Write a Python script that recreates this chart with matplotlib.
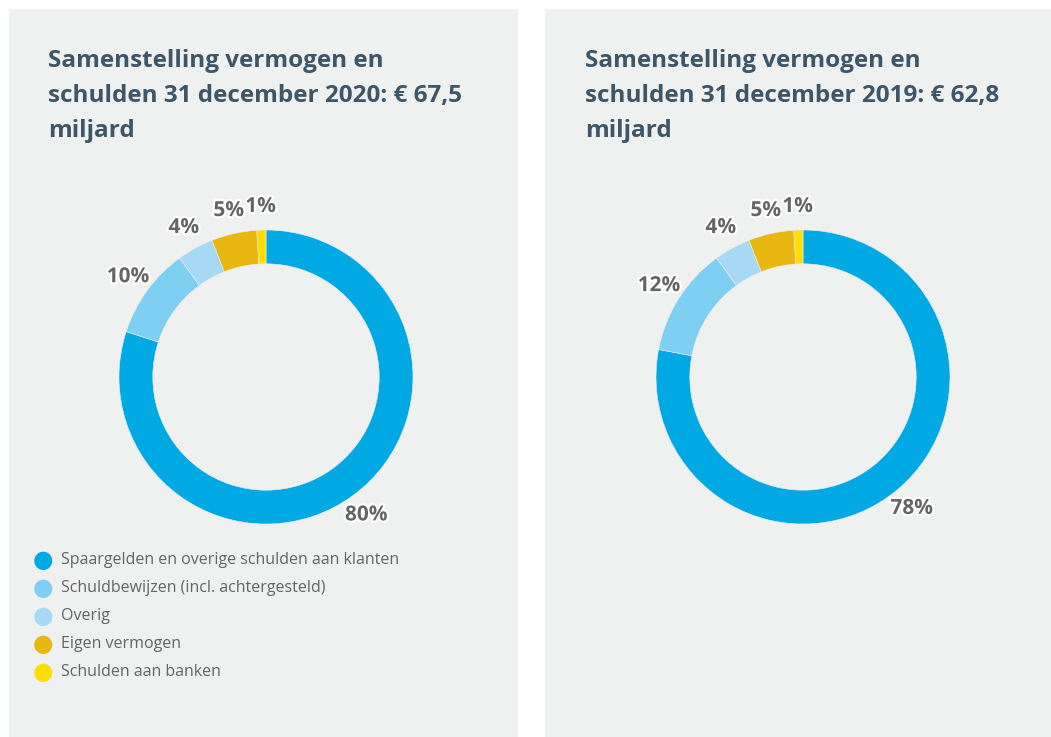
import matplotlib
matplotlib.use("Agg")
import matplotlib.pyplot as plt
from matplotlib.patches import Rectangle
import matplotlib.patheffects as pe

plt.rcParams['font.family'] = ['Open Sans', 'DejaVu Sans']

# data
categories = ['Spaargelden en overige schulden aan klanten',
              'Schuldbewijzen (incl. achtergesteld)',
              'Overig',
              'Eigen vermogen',
              'Schulden aan banken']
colors = ['#00a9e3', '#7fcff3', '#a8d9f4', '#e8b712', '#ffdd00']
values_2020 = [80, 10, 4, 5, 1]
values_2019 = [78, 12, 4, 5, 1]
titles = [['Samenstelling vermogen en', 'schulden 31 december 2020: € 67,5', 'miljard'],
          ['Samenstelling vermogen en', 'schulden 31 december 2019: € 62,8', 'miljard']]

W, H = 1051, 737
bg = '#eff0f0'
title_col = '#3d5668'
label_col = '#656565'

fig = plt.figure(figsize=(W / 100, H / 100), dpi=100)
fig.patch.set_facecolor('white')

# panel backgrounds (pixel coords -> figure fraction)
for x0, x1 in [(9, 518), (545, 1051)]:
    fig.add_artist(Rectangle((x0 / W, 0), (x1 - x0) / W, (H - 9) / H,
                             transform=fig.transFigure, facecolor=bg, edgecolor='none', zorder=0))

def donut(cx, cy, values, title_lines, tx):
    R = 147  # outer radius in px
    lim = 1.3
    size = 2 * lim * R
    ax = fig.add_axes([(cx - size / 2) / W, (H - cy - size / 2) / H, size / W, size / H])
    wedges, texts, autotexts = ax.pie(
        values, colors=colors, startangle=90, counterclock=False, radius=1,
        wedgeprops=dict(width=0.23, edgecolor=bg, linewidth=0.4),
        autopct=lambda p: f'{p:.0f}%', pctdistance=1.16)
    ax.set_xlim(-lim, lim)
    ax.set_ylim(-lim, lim)
    ax.set_aspect('equal')
    ax.axis('off')
    for t in autotexts:
        t.set_fontsize(15)
        t.set_fontweight('bold')
        t.set_color(label_col)
        t.set_path_effects([pe.withStroke(linewidth=3, foreground='white')])
    for i, line in enumerate(title_lines):
        fig.text(tx / W, 1 - (67 + 35 * i) / H, line, fontsize=17.5, fontweight='bold',
                 color=title_col, va='baseline', ha='left')

donut(266, 377, values_2020, titles[0], 48)
donut(803, 377, values_2019, titles[1], 585)

# legend (left panel only)
for i, (c, name) in enumerate(zip(colors, categories)):
    y = 1 - (560 + 28 * i) / H
    fig.text(43 / W, y, '\u25CF', color=c, fontsize=17, ha='center', va='center',
             family='DejaVu Sans')
    fig.text(61 / W, y, name, color=label_col, fontsize=11.5, ha='left', va='center')

fig.savefig('out.png', dpi=100, facecolor=fig.get_facecolor())
